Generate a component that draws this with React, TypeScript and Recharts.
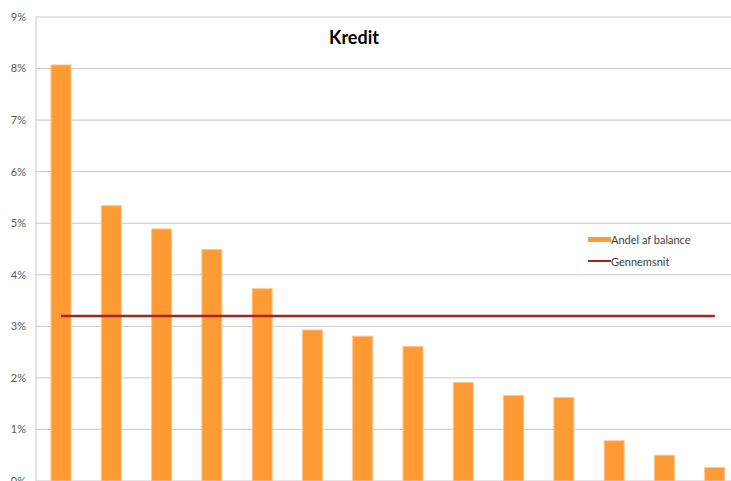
import React from "react";
import {
  ComposedChart,
  Bar,
  Line,
  XAxis,
  YAxis,
  CartesianGrid,
} from "recharts";

// institutions are not named in the source, only ranked
const categories = ["1", "2", "3", "4", "5", "6", "7", "8", "9", "10", "11", "12", "13", "14"];
const andelAfBalance = [8.07, 5.34, 4.89, 4.49, 3.73, 2.93, 2.81, 2.61, 1.91, 1.66, 1.62, 0.78, 0.5, 0.26];
const gennemsnit = 3.2;
const yTicks = [0, 1, 2, 3, 4, 5, 6, 7, 8, 9];

const BAR_COLOR = "#ff9a35";
const AVG_COLOR = "#a8221c";
const FONT = "Lato, 'Open Sans', sans-serif";

const data = categories.map((name, i) => ({
  name,
  andel: andelAfBalance[i],
  avg: gennemsnit,
}));

function ChartLegend() {
  const row: React.CSSProperties = { display: "flex", alignItems: "center", height: 22 };
  const label: React.CSSProperties = { fontSize: 11, color: "#404040", fontFamily: FONT };
  return (
    <div style={{ position: "absolute", left: 588, top: 228, zIndex: 2 }}>
      <div style={row}>
        <span style={{ display: "inline-block", width: 23, height: 5, background: BAR_COLOR }} />
        <span style={label}>Andel af balance</span>
      </div>
      <div style={row}>
        <span style={{ display: "inline-block", width: 23, height: 2, background: AVG_COLOR }} />
        <span style={label}>Gennemsnit</span>
      </div>
    </div>
  );
}

export default function App() {
  return (
    <div
      style={{
        position: "fixed",
        left: 0,
        top: 0,
        width: 731,
        height: 481,
        overflow: "hidden",
        background: "#fff",
      }}
    >
      <div
        style={{
          position: "absolute",
          left: 0,
          width: 708,
          top: 26,
          textAlign: "center",
          fontFamily: FONT,
          fontWeight: 700,
          fontSize: 18,
          color: "#000",
          zIndex: 2,
        }}
      >
        Kredit
      </div>
      <ChartLegend />
      <ComposedChart
        width={740}
        height={500}
        data={data}
        margin={{ top: 17, right: 0, bottom: 19, left: 0 }}
      >
        <CartesianGrid vertical={false} stroke="#c9c9c9" />
        <XAxis dataKey="name" hide />
        <YAxis
          width={36}
          domain={[0, 9]}
          ticks={yTicks}
          interval={0}
          tickFormatter={(v) => `${v}%`}
          tickLine={false}
          tickSize={0}
          tickMargin={10}
          axisLine={{ stroke: "#c9c9c9" }}
          tick={{ fontSize: 11, fill: "#595959", fontFamily: FONT }}
        />
        <Bar
          dataKey="andel"
          name="Andel af balance"
          fill={BAR_COLOR}
          stroke="#ffc48a"
          strokeWidth={1}
          barSize={20}
          isAnimationActive={false}
        />
        <Line
          dataKey="avg"
          name="Gennemsnit"
          type="linear"
          stroke={AVG_COLOR}
          strokeWidth={2.5}
          dot={false}
          activeDot={false}
          isAnimationActive={false}
        />
      </ComposedChart>
    </div>
  );
}
